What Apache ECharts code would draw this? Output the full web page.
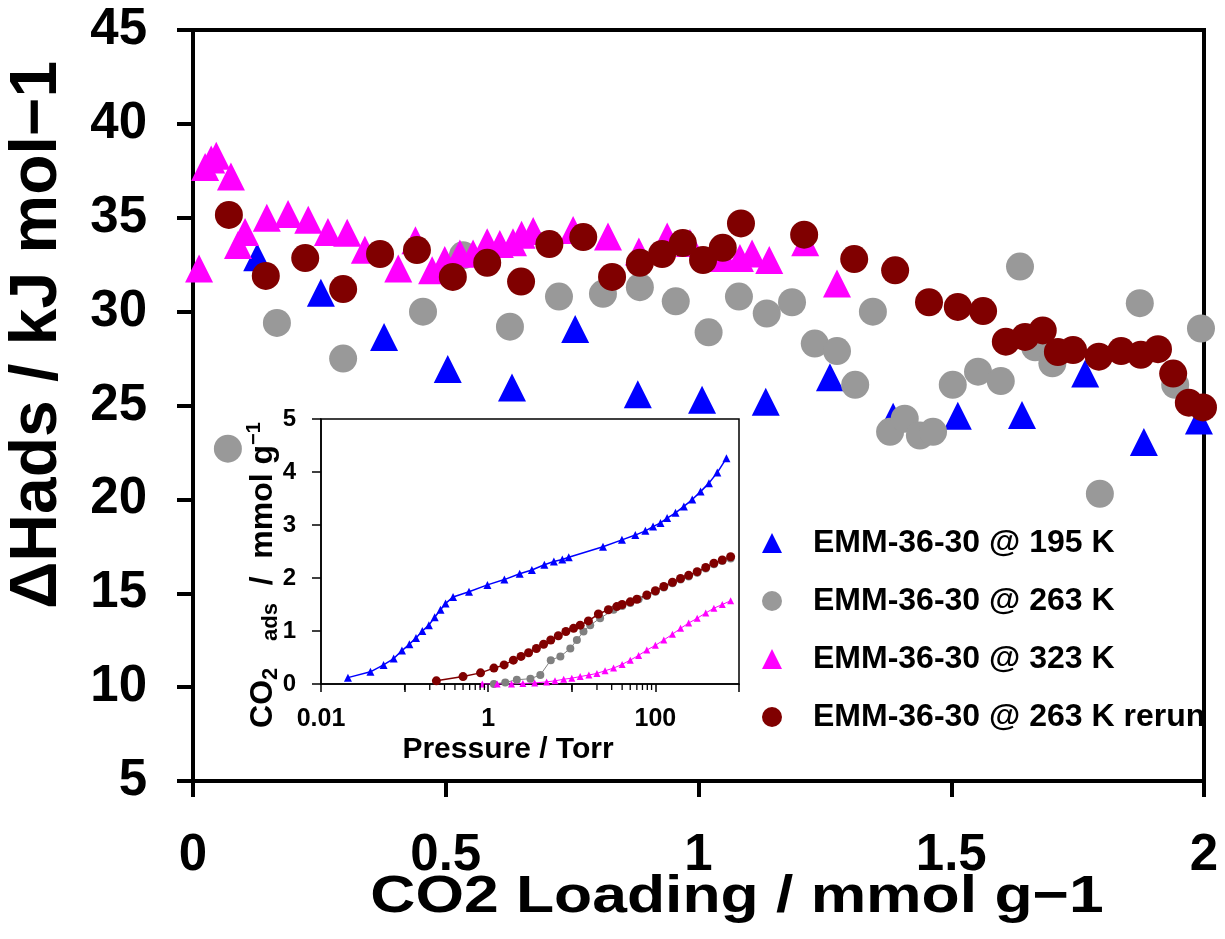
<!DOCTYPE html>
<html><head><meta charset="utf-8">
<script src="https://cdn.jsdelivr.net/npm/echarts@6/dist/echarts.min.js"></script>
<style>html,body{margin:0;padding:0;background:#fff}#c{width:1225px;height:939px}</style>
</head><body><div id="c"></div>
<script>
// ---------- main plot data: CO2 loading (mmol/g) vs heat of adsorption (kJ/mol) ----------
const names = ['EMM-36-30 @ 195 K', 'EMM-36-30 @ 263 K', 'EMM-36-30 @ 323 K', 'EMM-36-30 @ 263 K rerun'];

const load195 = [0.127,0.253,0.378,0.504,0.631,0.756,0.880,1.007,1.133,1.26,1.385,1.513,1.64,1.765,1.881,1.99];
const dh195   = [32.9,31.0,28.65,26.94,25.96,29.07,25.6,25.3,25.2,26.5,24.4,24.45,24.5,26.7,23.05,24.2];

const load263 = [0.069,0.166,0.297,0.455,0.534,0.627,0.724,0.811,0.884,0.955,1.02,1.08,1.135,1.185,1.23,1.274,1.31,1.345,1.379,1.408,1.438,1.464,1.503,1.553,1.598,1.636,1.666,1.70,1.794,1.873,1.943,1.994];
const dh263   = [22.7,29.4,27.5,30.0,33.0,29.2,30.8,30.95,31.3,30.55,28.9,30.8,29.9,30.5,28.3,27.9,26.1,30.0,23.6,24.3,23.4,23.6,26.1,26.8,26.3,32.4,28.1,27.25,20.3,30.45,26.1,29.1];

const load323 = [0.012,0.024,0.036,0.046,0.075,0.089,0.103,0.146,0.188,0.228,0.267,0.305,0.340,0.406,0.44,0.473,0.498,0.528,0.554,0.582,0.607,0.633,0.65,0.673,0.752,0.821,0.882,0.938,0.983,1.05,1.082,1.106,1.14,1.211,1.274];
const dh323   = [32.3,37.7,38.1,38.3,37.2,33.55,34.24,35.0,35.2,34.9,34.24,34.2,33.3,32.3,33.8,32.2,32.75,33.1,33.1,33.7,33.6,33.7,34.1,34.3,34.35,34.0,33.2,34.0,33.65,32.85,32.85,33.1,32.75,33.7,31.5];

const load263r = [0.071,0.144,0.222,0.297,0.37,0.443,0.514,0.582,0.649,0.705,0.772,0.829,0.884,0.928,0.969,1.009,1.048,1.084,1.209,1.308,1.389,1.456,1.513,1.563,1.608,1.646,1.681,1.711,1.741,1.792,1.836,1.875,1.909,1.939,1.97,1.998];
const dh263r   = [35.15,31.9,32.85,31.2,33.07,33.28,31.85,32.6,31.6,33.6,33.97,31.85,32.6,33.07,33.65,32.75,33.4,34.7,34.1,32.8,32.2,30.5,30.25,30.03,28.4,28.65,29.0,27.85,27.95,27.6,27.9,27.7,28.0,26.7,25.15,24.9];

// ---------- inset data: pressure (Torr) vs CO2 uptake (mmol/g) ----------
const p195 = [0.021,0.039,0.056,0.074,0.093,0.114,0.137,0.163,0.195,0.229,0.269,0.309,0.38,0.589,0.98,1.56,2.38,3.33,4.7,6.1,7.7,9.2,23.6,39.8,57.5,75.9,93.8,115,138,174,219,276,347,437,550,708];
const q195 = [0.12,0.23,0.36,0.48,0.63,0.75,0.87,1.0,1.11,1.26,1.40,1.52,1.64,1.74,1.87,1.97,2.08,2.15,2.25,2.31,2.35,2.39,2.59,2.72,2.81,2.89,2.97,3.04,3.13,3.23,3.35,3.48,3.63,3.79,3.99,4.26];

const p263 = [1.17,1.6,2.2,3.2,4.2,5.6,7.3,9.6,11.5,13.8,16.6,21.8,31.6,40,50,63,79,100,126,160,200,250,316,400,501,631,794];
const q263 = [0.0,0.03,0.08,0.10,0.17,0.45,0.52,0.67,0.83,0.99,1.11,1.24,1.40,1.47,1.53,1.60,1.66,1.74,1.82,1.90,1.97,2.03,2.10,2.18,2.26,2.32,2.37];

const p323 = [0.85,1.28,1.9,2.6,3.6,5.0,6.3,8.0,10,12.6,16,20,25,31.6,40,50,63,79,100,126,160,200,250,316,400,501,631,794];
const q323 = [0.0,0.0,0.0,0.01,0.02,0.04,0.06,0.09,0.11,0.14,0.17,0.2,0.25,0.30,0.37,0.45,0.54,0.64,0.73,0.83,0.94,1.05,1.15,1.24,1.34,1.43,1.50,1.57];

const p263r = [0.24,0.50,0.81,1.17,1.55,2.0,2.47,3.04,3.77,4.6,5.6,6.9,8.5,10.5,12.6,15.8,20.8,27.4,34.5,40,50,60,79,100,126,160,200,250,316,400,501,631,794];
const q263r = [0.06,0.14,0.21,0.30,0.36,0.45,0.52,0.59,0.67,0.75,0.83,0.91,0.99,1.05,1.11,1.19,1.32,1.40,1.46,1.50,1.55,1.60,1.68,1.76,1.84,1.92,1.99,2.05,2.12,2.20,2.28,2.34,2.40];

// tick values
const mainXTicks = [0, 0.5, 1, 1.5, 2];
const insetXLabelled = ['0.01', '1', '100'];
const insetMinorTicks = [0.1,0.2,0.3,0.4,0.5,0.6,0.7,0.8,0.9,10,20,30,40,50,60,70,80,90];

const zip = (a, b) => a.map((v, i) => [v, b[i]]);
const FONT = 'Liberation Sans';

const chart = echarts.init(document.getElementById('c'), null, {renderer: 'canvas'});

const mainSeries = [
  {name: names[0], data: zip(load195, dh195), symbol: 'triangle', color: '#0000FF'},
  {name: names[1], data: zip(load263, dh263), symbol: 'circle', color: '#999999'},
  {name: names[2], data: zip(load323, dh323), symbol: 'triangle', color: '#FF00FF'},
  {name: names[3], data: zip(load263r, dh263r), symbol: 'circle', color: '#800000'}
].map(s => ({
  type: 'scatter', name: s.name, data: s.data, xAxisIndex: 0, yAxisIndex: 0,
  symbol: s.symbol, symbolSize: 28, itemStyle: {color: s.color, opacity: 1}, clip: false
}));

const insetSeries = [
  {name: 'i195', data: zip(p195, q195), symbol: 'triangle', color: '#0000FF', size: 8, lw: 1.5},
  {name: 'i263', data: zip(p263, q263), symbol: 'circle', color: '#808080', size: 8, lw: 1},
  {name: 'i323', data: zip(p323, q323), symbol: 'triangle', color: '#FF00FF', size: 7, lw: 1},
  {name: 'i263r', data: zip(p263r, q263r), symbol: 'circle', color: '#800000', size: 9, lw: 1.5}
].map(s => ({
  type: 'line', name: s.name, data: s.data, xAxisIndex: 1, yAxisIndex: 1,
  symbol: s.symbol, symbolSize: s.size, showSymbol: true,
  itemStyle: {color: s.color, opacity: 1}, lineStyle: {color: s.color, width: s.lw}, z: 5
}));

const minorTickSeries = {
  type: 'custom', xAxisIndex: 1, yAxisIndex: 1, silent: true, clip: false, z: 6,
  data: insetMinorTicks.map(v => [v, 0]),
  renderItem: function (params, api) {
    const p = api.coord([api.value(0), api.value(1)]);
    return {type: 'line', shape: {x1: p[0], y1: p[1], x2: p[0], y2: p[1] + 6},
      style: {stroke: '#000', lineWidth: 1.3}};
  }
};

const option = {
  backgroundColor: '#fff',
  animation: false,
  textStyle: {fontFamily: FONT},
  grid: [
    {left: 193, top: 30, width: 1011, height: 751, show: true, borderColor: '#000', borderWidth: 4, backgroundColor: 'transparent'},
    {left: 321, top: 419, width: 418, height: 265, show: true, borderColor: '#000', borderWidth: 1.5, backgroundColor: 'transparent'}
  ],
  xAxis: [
    {gridIndex: 0, type: 'value', min: 0, max: 2, interval: 0.5,
     axisLine: {lineStyle: {color: '#000', width: 4}},
     axisTick: {inside: false, length: 16, lineStyle: {color: '#000', width: 4}},
     axisLabel: {fontFamily: FONT, fontWeight: 'bold', fontSize: 51, color: '#000', margin: 49,
       formatter: v => String(mainXTicks.find(t => Math.abs(t - v) < 1e-9))},
     splitLine: {show: false}},
    {gridIndex: 1, type: 'log', logBase: 10, min: 0.01, max: 1000,
     axisLine: {lineStyle: {color: '#000', width: 1.5}},
     axisTick: {inside: false, length: 8, lineStyle: {color: '#000', width: 1.5}},
     axisLabel: {fontFamily: FONT, fontWeight: 'bold', fontSize: 25, color: '#000', margin: 23,
       showMaxLabel: true, showMinLabel: true,
       formatter: v => {
         const s = insetXLabelled.find(t => Math.abs(Math.log10(+t) - Math.log10(v)) < 1e-6);
         return s || '';
       }},
     splitLine: {show: false}, minorTick: {show: false}}
  ],
  yAxis: [
    {gridIndex: 0, type: 'value', min: 5, max: 45, interval: 5,
     axisLine: {lineStyle: {color: '#000', width: 4}},
     axisTick: {inside: false, length: 16, lineStyle: {color: '#000', width: 4}},
     axisLabel: {fontFamily: FONT, fontWeight: 'bold', fontSize: 51, color: '#000', margin: 46},
     splitLine: {show: false}},
    {gridIndex: 1, type: 'value', min: 0, max: 5, interval: 1,
     axisLine: {lineStyle: {color: '#000', width: 1.5}},
     axisTick: {inside: false, length: 9, lineStyle: {color: '#000', width: 1.5}},
     axisLabel: {fontFamily: FONT, fontWeight: 'bold', fontSize: 24, color: '#000', margin: 25},
     splitLine: {show: false}}
  ],
  legend: {
    data: names.map(n => ({name: n, itemStyle: {opacity: 1}})),
    orient: 'vertical', left: 762, top: 527, padding: 0,
    itemWidth: 20, itemHeight: 20, itemGap: 26, selectedMode: false,
    textStyle: {fontFamily: FONT, fontWeight: 'bold', fontSize: 32, color: '#000', lineHeight: 32, padding: [0, 0, 0, 26]}
  },
  graphic: [
    {type: 'text', x: 38, y: 335, rotation: Math.PI / 2, silent: true,
     style: {text: 'ΔHads / kJ mol−1', fontFamily: FONT, fontWeight: 'bold', fontSize: 66,
       fill: '#000', align: 'center', verticalAlign: 'middle'}},
    {type: 'text', x: 737, y: 898, scaleX: 1.2, silent: true,
     style: {text: 'CO2 Loading / mmol g−1', fontFamily: FONT, fontWeight: 'bold', fontSize: 52,
       fill: '#000', align: 'center', verticalAlign: 'middle'}},
    {type: 'text', x: 508, y: 750, silent: true,
     style: {text: 'Pressure / Torr', fontFamily: FONT, fontWeight: 'bold', fontSize: 30,
       fill: '#000', align: 'center', verticalAlign: 'middle'}},
    {type: 'text', x: 263, y: 575, rotation: Math.PI / 2, silent: true,
     style: {text: '{m|CO}{s|2}{m|   }{s|ads}{m|  /  mmol g}{p|−1}', align: 'center', verticalAlign: 'middle',
       rich: {
         m: {fontFamily: FONT, fontWeight: 'bold', fontSize: 32, fill: '#000', lineHeight: 38},
         s: {fontFamily: FONT, fontWeight: 'bold', fontSize: 22, fill: '#000', lineHeight: 22, verticalAlign: 'bottom'},
         p: {fontFamily: FONT, fontWeight: 'bold', fontSize: 20, fill: '#000', lineHeight: 20, verticalAlign: 'top'}
       }}}
  ],
  series: [...mainSeries, ...insetSeries, minorTickSeries]
};
chart.setOption(option);
</script></body></html>
